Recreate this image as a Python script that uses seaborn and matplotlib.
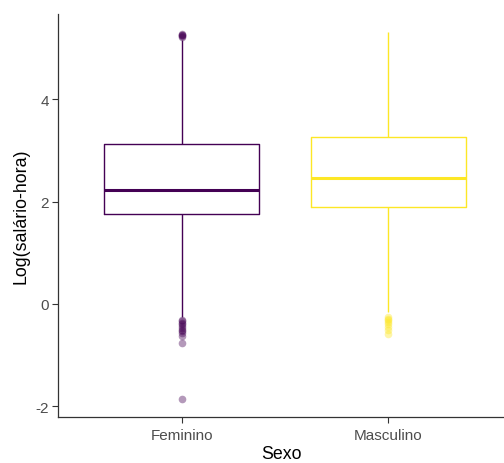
import numpy as np
import pandas as pd
import seaborn as sns
import matplotlib
matplotlib.use("Agg")
import matplotlib.pyplot as plt

# ---- data (log hourly wage by sex) ----
categories = ["Feminino", "Masculino"]
colors = ["#440154", "#FDE725"]

# five-number summaries: lower whisker end, Q1, median, Q3, upper whisker end
fem_summary = [-0.25, 1.76, 2.23, 3.13, 5.17]
mas_summary = [-0.15, 1.89, 2.47, 3.26, 5.31]

# outliers
fem_outliers = [-0.32, -0.34, -0.37, -0.40, -0.44, -0.47, -0.50, -0.53,
                -0.56, -0.62, -0.76, -1.85, 5.22, 5.24, 5.25, 5.26, 5.27]
mas_outliers = [-0.25, -0.29, -0.32, -0.36, -0.40, -0.45, -0.50, -0.58]

REP = 40  # weight of the quartile values in the sample


def sample(summary, outliers):
    lo, q1, med, q3, hi = summary
    return [lo] + [q1] * REP + [med] * REP + [q3] * REP + [hi] + list(outliers)


vals_f = sample(fem_summary, fem_outliers)
vals_m = sample(mas_summary, mas_outliers)
df = pd.DataFrame({
    "Sexo": [categories[0]] * len(vals_f) + [categories[1]] * len(vals_m),
    "valor": vals_f + vals_m,
})

sns.set_style("white")
plt.rcParams["font.family"] = ["Liberation Sans", "DejaVu Sans"]

fig = plt.figure(figsize=(5.04, 4.64), dpi=100)
ax = fig.add_axes([58 / 504, 46 / 464, 1 - 58 / 504, (418 - 15) / 464])

sns.boxplot(data=df, x="Sexo", y="valor", hue="Sexo", palette=colors,
            order=categories, hue_order=categories, fill=False, width=0.75,
            linewidth=1.0, showcaps=False, whis=1.5, legend=False,
            medianprops=dict(linewidth=2.2),
            flierprops=dict(marker="o", markersize=5.5, markeredgewidth=0),
            ax=ax)

# style the outlier points (filled, semi-transparent)
for ln in ax.lines:
    if ln.get_marker() == "o":
        c = ln.get_markeredgecolor()
        ln.set_markerfacecolor(c)
        ln.set_markeredgecolor(c)
        ln.set_alpha(0.4)

ax.set_xlim(-0.6, 1.56)
ax.set_ylim(-2.21, 5.67)
ax.set_yticks([-2, 0, 2, 4])
ax.set_yticklabels(["-2", "0", "2", "4"])

ax.set_xlabel("Sexo", fontsize=12.8, color="black", labelpad=2)
ax.set_ylabel("Log(salário-hora)", fontsize=12.8, color="black", labelpad=4)

for s in ["top", "right"]:
    ax.spines[s].set_visible(False)
for s in ["left", "bottom"]:
    ax.spines[s].set_color("#333333")
    ax.spines[s].set_linewidth(0.9)

ax.tick_params(axis="both", which="major", length=4, width=0.8, color="#333333",
               labelsize=11.0, labelcolor="#4D4D4D", left=True, bottom=True)
ax.tick_params(axis="x", pad=4)
ax.tick_params(axis="y", pad=2.5)

fig.savefig("out.png", dpi=100)
